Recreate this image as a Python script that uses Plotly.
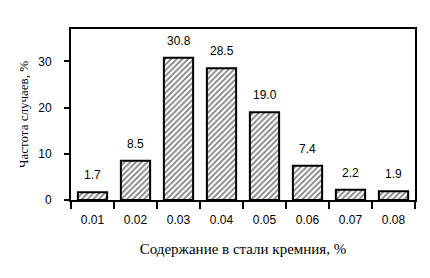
import plotly.graph_objects as go

categories = ["0.01", "0.02", "0.03", "0.04", "0.05", "0.06", "0.07", "0.08"]
values = [1.7, 8.5, 30.8, 28.5, 19.0, 7.4, 2.2, 1.9]
y_ticks = [0, 10, 20, 30]
x_title = "Содержание в стали кремния, %"
y_title = "Частота случаев, %"

sans = "Liberation Sans, Arial, sans-serif"
serif = "Liberation Serif, Times New Roman, serif"

fig = go.Figure()
fig.add_trace(go.Bar(
    x=categories, y=values,
    marker=dict(color="white",
                line=dict(color="black", width=2),
                pattern=dict(shape="/", fgcolor="black", bgcolor="white", size=4, solidity=0.45)),
    width=0.68,
    showlegend=False,
))
for i, v in enumerate(values):
    fig.add_annotation(x=i, y=v, text=f"{v:.1f}", showarrow=False, yanchor="bottom", yshift=8,
                       font=dict(family=sans, size=12, color="black"))

fig.update_layout(
    width=430, height=278,
    margin=dict(l=71, r=15, t=29, b=78),
    paper_bgcolor="white", plot_bgcolor="white",
    font=dict(family=sans, size=12, color="black"),
)
fig.update_xaxes(
    type="category", tickson="boundaries", ticks="outside", ticklen=7, tickwidth=1.5, tickcolor="black",
    showline=True, linewidth=2, linecolor="black", mirror=True, showgrid=False,
    ticklabelstandoff=8,
    title=dict(text=x_title, font=dict(family=serif, size=15), standoff=17),
    tickfont=dict(family=sans, size=12),
)
fig.update_yaxes(
    range=[0, 37], tickvals=y_ticks, ticks="outside", ticklen=5, tickwidth=1.5, tickcolor="black",
    showline=True, linewidth=2, linecolor="black", mirror=True, showgrid=False, zeroline=False,
    ticklabelstandoff=10,
    title=dict(text=y_title, font=dict(family=serif, size=13), standoff=7),
    tickfont=dict(family=sans, size=12),
)
fig.write_html("out.html")
